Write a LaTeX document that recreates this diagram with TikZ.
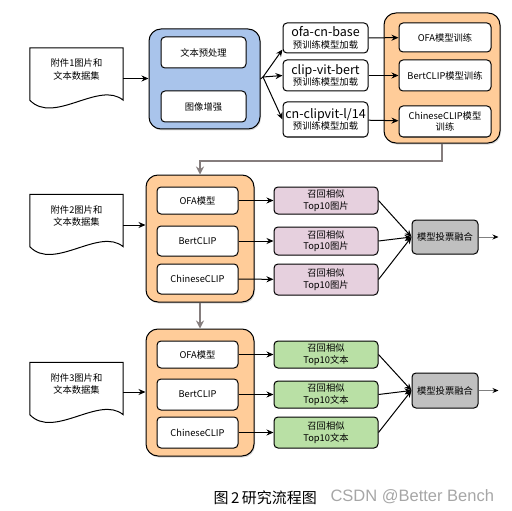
\documentclass[tikz,border=0pt]{standalone}
\usepackage{fontspec}
\setmainfont{Noto Sans CJK SC}
\newfontfamily\markfont{Liberation Sans}
\usetikzlibrary{arrows.meta,shadows}
\definecolor{prepblue}{HTML}{A9C4EB}
\definecolor{modelorange}{HTML}{FFCC99}
\definecolor{imgpink}{HTML}{E6D0DE}
\definecolor{txtgreen}{HTML}{B9E0A5}
\definecolor{fusegray}{HTML}{C0C0C0}
\definecolor{flowgray}{HTML}{857D7D}
\newcommand\docoutline[1]{%
  \draw[line width=1pt] (#1.north west) -- (#1.north east) -- ([yshift=-9pt]#1.south east)
    .. controls ([xshift=-24pt,yshift=11pt]#1.south east) and ([xshift=24pt,yshift=-34pt]#1.south west)
    .. ([yshift=-9pt]#1.south west) -- cycle;}

\begin{document}
\begin{tikzpicture}[x=1pt,y=-1pt,
  box/.style={draw,rounded corners=4pt,line width=1pt,fill=white,align=center,
    inner sep=1pt,font=\fontsize{9.3}{11.5}\selectfont},
  group/.style={draw,rounded corners=12pt,line width=1pt,
    drop shadow={opacity=0.3,shadow xshift=1pt,shadow yshift=-1.5pt}},
  docnode/.style={minimum width=93,minimum height=43,align=center,inner sep=0pt,
    font=\fontsize{9.3}{12.5}\selectfont},
  edge/.style={-{Stealth[length=7pt,width=6pt]},line width=1pt},
  flow/.style={-{Stealth[length=8pt,width=8pt]},line width=2pt,draw=flowgray},
  outedge/.style={-{Stealth[length=6pt,width=5pt,black]},line width=0.8pt,draw=gray}
]
  \useasboundingbox (0,0) rectangle (512,511);

  % row 1: preprocessing and training
  \node[docnode] (doc1) at (76.5,69.5) {附件1图片和\\文本数据集};
  \docoutline{doc1}
  \node[group,fill=prepblue,minimum width=111,minimum height=100] (prep) at (204.5,79) {};
  \node[box,minimum width=85,minimum height=31] (txtpre) at (203.5,52.5) {文本预处理};
  \node[box,minimum width=85,minimum height=31] (imgaug) at (203.5,106.5) {图像增强};

  \node[box,minimum width=85,minimum height=30] (ofapre) at (325.5,38)
    {{\fontsize{12.5}{12}\selectfont ofa-cn-base}\\预训练模型加载};
  \node[box,minimum width=85,minimum height=31] (bertpre) at (325.5,75.5)
    {{\fontsize{12.5}{12}\selectfont clip-vit-bert}\\预训练模型加载};
  \node[box,minimum width=85,minimum height=35] (cnpre) at (325.5,119.5)
    {{\fontsize{12.5}{12}\selectfont cn-clipvit-l/14}\\预训练模型加载};

  \node[group,fill=modelorange,minimum width=116,minimum height=130] (train) at (442,78) {};
  \node[box,minimum width=92,minimum height=29] (trainofa) at (445,37.5) {OFA模型训练};
  \node[box,minimum width=92,minimum height=31] (trainbert) at (445,75.5) {BertCLIP模型训练};
  \node[box,minimum width=92,minimum height=31] (traincn) at (445,121.5) {ChineseCLIP模型\\训练};

  \coordinate (doc1out) at ([yshift=-9pt]doc1.east);
  \coordinate (fan) at (263,77);
  \draw[edge] (doc1out) -- (doc1out -| prep.west);
  \draw[line width=1pt] (prep.east) -- (fan);
  \draw[edge] (fan) -- ([yshift=4pt]ofapre.south west);
  \draw[edge] (fan) -- (bertpre.west);
  \draw[edge] (fan) -- (cnpre.west);
  \draw[edge] (ofapre) -- (trainofa);
  \draw[edge] (bertpre) -- (trainbert);
  \draw[edge] (cnpre) -- (traincn);

  % row 2: image retrieval
  \node[docnode] (doc2) at (76.5,216) {附件2图片和\\文本数据集};
  \docoutline{doc2}
  \node[group,fill=modelorange,minimum width=108,minimum height=127] (imgmodels) at (200,238.5) {};
  \node[box,minimum width=81,minimum height=27] (imgofa) at (197.5,200.5) {OFA模型};
  \node[box,minimum width=81,minimum height=30] (imgbert) at (197.5,241) {BertCLIP};
  \node[box,minimum width=81,minimum height=30] (imgcn) at (197.5,279) {ChineseCLIP};

  \node[box,fill=imgpink,minimum width=104,minimum height=27] (imgtop1) at (326,200.5) {召回相似\\Top10图片};
  \node[box,fill=imgpink,minimum width=104,minimum height=28] (imgtop2) at (326,241) {召回相似\\Top10图片};
  \node[box,fill=imgpink,minimum width=104,minimum height=31] (imgtop3) at (326,279.5) {召回相似\\Top10图片};
  \node[box,fill=fusegray,minimum width=66,minimum height=34] (imgfuse) at (445,237) {模型投票融合};
  \coordinate (imgout) at ([xshift=20pt]imgfuse.east);

  \coordinate (doc2out) at ([yshift=-9pt]doc2.east);
  \draw[edge] (doc2out) -- (doc2out -| imgmodels.west);
  \draw[edge] (imgofa) -- (imgtop1);
  \draw[edge] (imgbert) -- (imgtop2);
  \draw[edge] (imgcn) -- (imgtop3);
  \draw[edge] (imgtop1.east) -- (imgfuse.west);
  \draw[edge] (imgtop2.east) -- (imgfuse.west);
  \draw[edge] (imgtop3.east) -- (imgfuse.west);
  \draw[outedge] (imgfuse) -- (imgout);

  % row 3: text retrieval
  \node[docnode] (doc3) at (76.5,384) {附件3图片和\\文本数据集};
  \docoutline{doc3}
  \node[group,fill=modelorange,minimum width=108,minimum height=127] (txtmodels) at (200,392.5) {};
  \node[box,minimum width=81,minimum height=27] (txtofa) at (197.5,354.5) {OFA模型};
  \node[box,minimum width=81,minimum height=31] (txtbert) at (197.5,394.5) {BertCLIP};
  \node[box,minimum width=81,minimum height=31] (txtcn) at (197.5,432.5) {ChineseCLIP};

  \node[box,fill=txtgreen,minimum width=104,minimum height=27] (txttop1) at (326,354.5) {召回相似\\Top10文本};
  \node[box,fill=txtgreen,minimum width=104,minimum height=27] (txttop2) at (326,394.5) {召回相似\\Top10文本};
  \node[box,fill=txtgreen,minimum width=104,minimum height=31] (txttop3) at (326,432.5) {召回相似\\Top10文本};
  \node[box,fill=fusegray,minimum width=66,minimum height=35] (txtfuse) at (445,390.5) {模型投票融合};
  \coordinate (txtout) at ([xshift=20pt]txtfuse.east);

  \coordinate (doc3out) at ([yshift=-8pt]doc3.east);
  \draw[edge] (doc3out) -- (doc3out -| txtmodels.west);
  \draw[edge] (txtofa) -- (txttop1);
  \draw[edge] (txtbert) -- (txttop2);
  \draw[edge] (txtcn) -- (txttop3);
  \draw[edge] (txttop1.east) -- (txtfuse.west);
  \draw[edge] (txttop2.east) -- (txtfuse.west);
  \draw[edge] (txttop3.east) -- (txtfuse.west);
  \draw[outedge] (txtfuse) -- (txtout);

  % gray flow between stages
  \draw[flow] (train.south) -- ++(0,17) -| (imgmodels.north);
  \draw[flow] (imgmodels.south) -- (txtmodels.north);

  % caption
  \node[anchor=west,font=\fontsize{15}{15}\selectfont] (caption) at (210,498) {图\,2\,研究流程图};
  \node[anchor=west,font=\markfont\fontsize{16.5}{16.5}\selectfont,text=gray!70] (mark) at (327,497) {CSDN @Better Bench};
\end{tikzpicture}
\end{document}
